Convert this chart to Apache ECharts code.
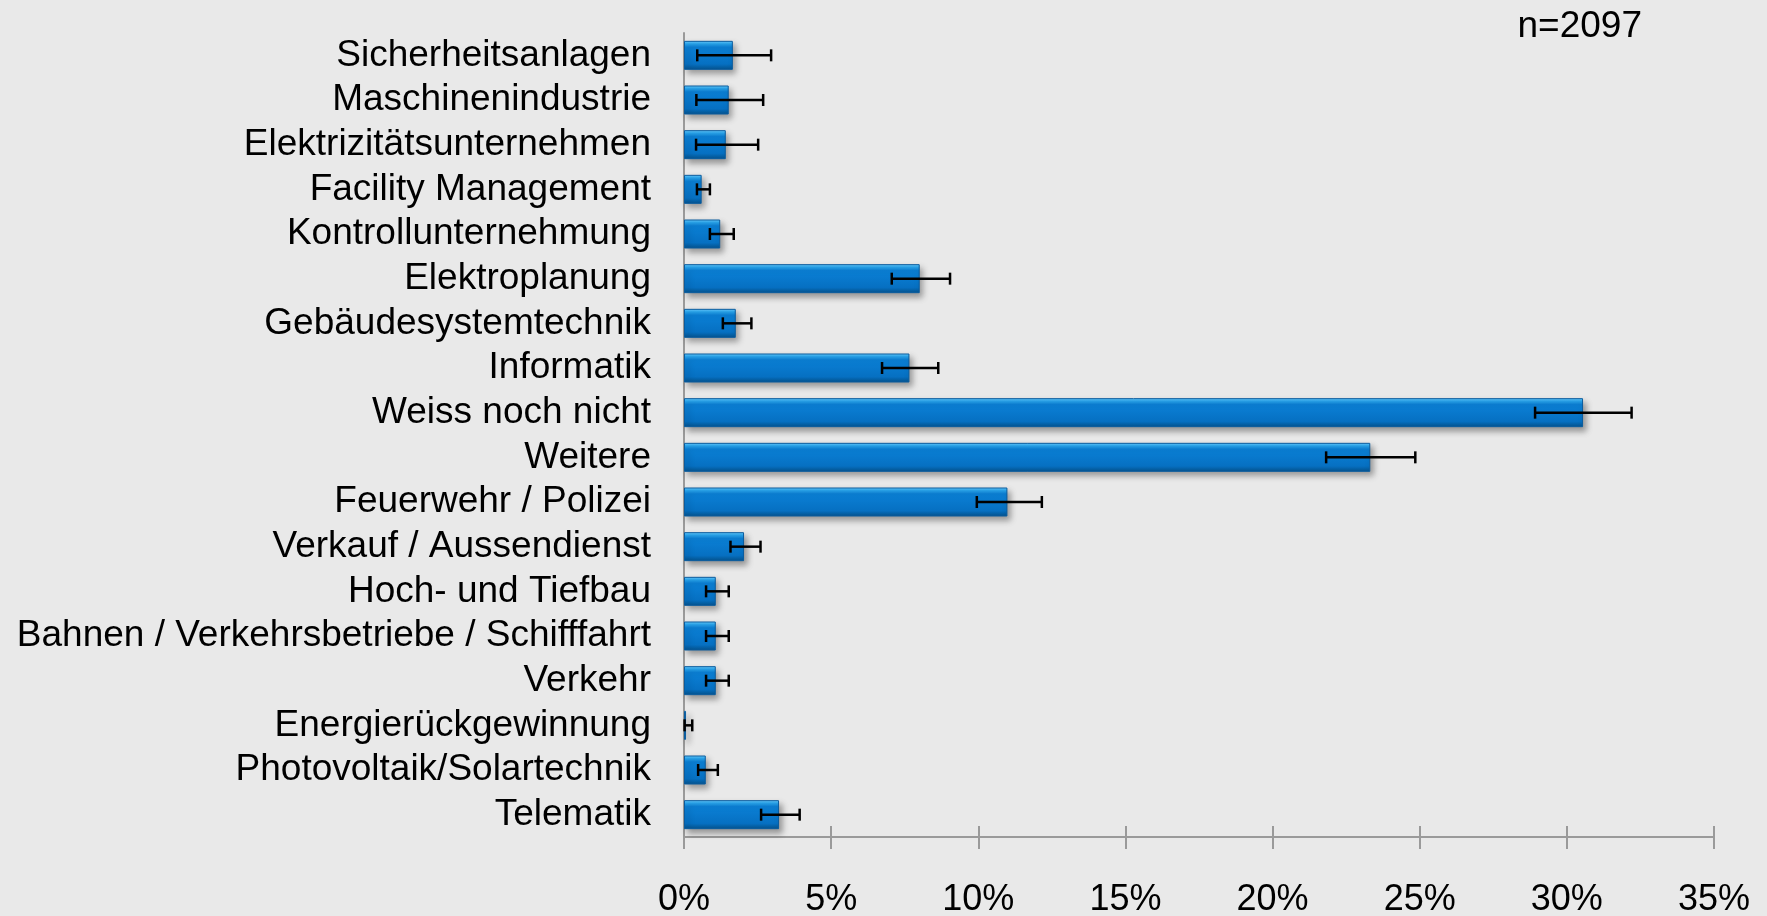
<!DOCTYPE html>
<html>
<head>
<meta charset="utf-8">
<script src="https://cdn.jsdelivr.net/npm/echarts@6/dist/echarts.min.js"></script>
<style>
  html, body { margin: 0; padding: 0; background: #e9e9e9; }
  #chart { width: 1767px; height: 916px; }
</style>
</head>
<body>
<div id="chart"></div>
<script>
// Kategorien (von oben nach unten)
const categories = [
  'Sicherheitsanlagen', 'Maschinenindustrie', 'Elektrizitätsunternehmen',
  'Facility Management', 'Kontrollunternehmung', 'Elektroplanung',
  'Gebäudesystemtechnik', 'Informatik', 'Weiss noch nicht', 'Weitere',
  'Feuerwehr / Polizei', 'Verkauf / Aussendienst', 'Hoch- und Tiefbau',
  'Bahnen / Verkehrsbetriebe / Schifffahrt', 'Verkehr', 'Energierückgewinnung',
  'Photovoltaik/Solartechnik', 'Telematik'
];

// Anteil in %
const shares = [1.66, 1.52, 1.42, 0.60, 1.23, 8.01, 1.76, 7.66, 30.55, 23.32,
  10.99, 2.04, 1.08, 1.08, 1.08, 0.07, 0.74, 3.23];

// Fehlerbalken: untere / obere Grenze in %
const errLow = [0.45, 0.42, 0.41, 0.44, 0.88, 7.06, 1.32, 6.73, 28.92, 21.82,
  9.95, 1.58, 0.75, 0.75, 0.75, 0.02, 0.48, 2.62];
const errHigh = [2.96, 2.69, 2.52, 0.88, 1.69, 9.04, 2.29, 8.64, 32.2, 24.85,
  12.16, 2.60, 1.52, 1.52, 1.52, 0.28, 1.15, 3.93];

const xTicks = [0, 5, 10, 15, 20, 25, 30, 35];
const sampleLabel = 'n=2097';

const chart = echarts.init(document.getElementById('chart'));
const font = 'Liberation Sans, Arial, sans-serif';

const barColor = new echarts.graphic.LinearGradient(0, 0, 0, 1, [
  { offset: 0, color: '#6fd0ff' },
  { offset: 0.1, color: '#2aa6ee' },
  { offset: 0.22, color: '#0b80d6' },
  { offset: 0.8, color: '#0670c2' },
  { offset: 1, color: '#05528c' }
]);

const errorData = categories.map((_, i) => [i, errLow[i], errHigh[i]]);

const option = {
  backgroundColor: '#e9e9e9',
  animation: false,
  grid: { left: 684, right: 53, top: 33, bottom: 79, outerBoundsMode: 'none' },
  graphic: [{
    type: 'text',
    right: 125,
    top: 8,
    style: { text: sampleLabel, font: '37px ' + font, fill: '#000' }
  }],
  xAxis: [{
    type: 'value',
    min: xTicks[0],
    max: xTicks[xTicks.length - 1],
    interval: 5,
    splitLine: { show: false },
    axisLine: { show: true, lineStyle: { color: '#9a9a9a', width: 2 } },
    axisTick: { show: true, length: 12, lineStyle: { color: '#9a9a9a', width: 2 } },
    axisLabel: {
      margin: 45,
      formatter: '{value}%',
      color: '#000',
      fontSize: 36,
      fontFamily: font
    }
  }, {
    type: 'value',
    position: 'bottom',
    min: xTicks[0],
    max: xTicks[xTicks.length - 1],
    interval: 5,
    splitLine: { show: false },
    axisLine: { show: false },
    axisTick: { show: true, inside: true, length: 11, lineStyle: { color: '#9a9a9a', width: 2 } },
    axisLabel: { show: false }
  }],
  yAxis: {
    type: 'category',
    inverse: true,
    data: categories,
    axisLine: { show: true, lineStyle: { color: '#9a9a9a', width: 2 } },
    axisTick: { show: false },
    axisLabel: {
      interval: 0,
      margin: 33,
      padding: [7, 0, 0, 0],
      color: '#000',
      fontSize: 37,
      fontFamily: font
    }
  },
  series: [{
    type: 'bar',
    data: shares,
    barWidth: 29,
    itemStyle: {
      color: barColor,
      borderColor: '#0a5c9e',
      borderWidth: 1,
      shadowColor: 'rgba(0,0,0,0.35)',
      shadowBlur: 6,
      shadowOffsetX: 3,
      shadowOffsetY: 4
    }
  }, {
    type: 'custom',
    data: errorData,
    z: 5,
    renderItem: (params, api) => {
      const idx = api.value(0);
      const p0 = api.coord([api.value(1), idx]);
      const p1 = api.coord([api.value(2), idx]);
      const h = 6;
      const style = { stroke: '#000', lineWidth: 2.5 };
      return {
        type: 'group',
        children: [
          { type: 'line', shape: { x1: p0[0], y1: p0[1], x2: p1[0], y2: p1[1] }, style },
          { type: 'line', shape: { x1: p0[0], y1: p0[1] - h, x2: p0[0], y2: p0[1] + h }, style },
          { type: 'line', shape: { x1: p1[0], y1: p1[1] - h, x2: p1[0], y2: p1[1] + h }, style }
        ]
      };
    }
  }]
};

chart.setOption(option);
</script>
</body>
</html>
